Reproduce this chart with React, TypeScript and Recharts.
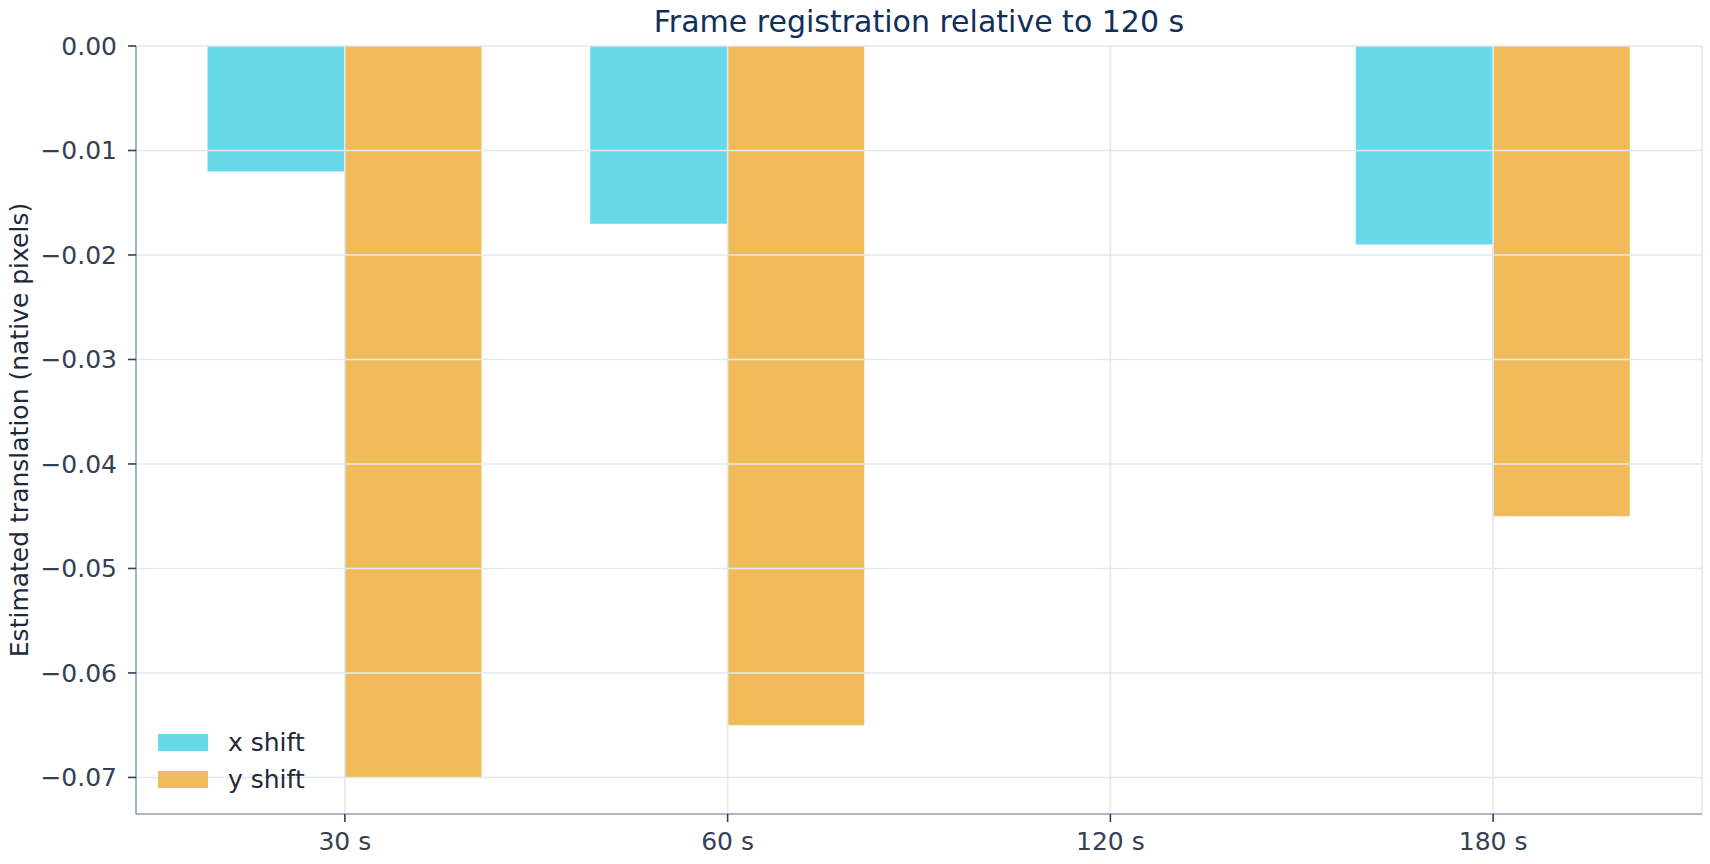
import React from 'react';
import {
  BarChart, Bar, XAxis, YAxis, CartesianGrid, Legend, Label,
} from 'recharts';

const categories = ['30 s', '60 s', '120 s', '180 s'];
const xShift = [-0.012, -0.017, 0, -0.019];
const yShift = [-0.07, -0.065, 0, -0.045];
const yTicks = [0, -0.01, -0.02, -0.03, -0.04, -0.05, -0.06, -0.07];

const seriesNames = ['x shift', 'y shift'];
const seriesColors = ['#68d9e8', '#f1bb5a'];

const data = categories.map((c, i) => ({ cat: c, x: xShift[i], y: yShift[i] }));

const FONT = '"DejaVu Sans", sans-serif';
const TICK = '#334155';
const SPINE = '#94a3b8';
const GRID = '#e2e8f0';
const FS = 25;

const fmt = (v: number) => (v < 0 ? '\u2212' : '') + Math.abs(v).toFixed(2);

function LegendBox() {
  return (
    <div style={{ fontFamily: FONT, fontSize: FS, color: '#1e293b' }}>
      {seriesNames.map((n, i) => (
        <div key={n} style={{ display: 'flex', alignItems: 'center', height: 37 }}>
          <span style={{ width: 50, height: 17, background: seriesColors[i], display: 'inline-block' }} />
          <span style={{ marginLeft: 20, lineHeight: '28px' }}>{n}</span>
        </div>
      ))}
    </div>
  );
}

export default function App() {
  return (
    <div style={{ position: 'absolute', left: 0, top: 0, width: 1710, height: 864, background: '#fff', fontFamily: FONT }}>
      <div
        style={{
          position: 'absolute', left: 136, width: 1566, top: 4, textAlign: 'center',
          fontSize: 30, lineHeight: '36px', color: '#10305a',
        }}
      >
        Frame registration relative to 120 s
      </div>
      <BarChart
        width={1710}
        height={864}
        data={data}
        margin={{ top: 46, right: 8, bottom: 0, left: 0 }}
        barGap={0}
        barSize={137}
        accessibilityLayer={false}
      >
        <XAxis
          dataKey="cat"
          height={50}
          padding={{ left: 17.5, right: 17.5 }}
          axisLine={{ stroke: SPINE, strokeWidth: 1.6 }}
          tickLine={{ stroke: TICK, strokeWidth: 1.6 }}
          tickSize={8}
          tickMargin={10}
          tick={{ fill: TICK, fontSize: FS, fontFamily: FONT }}
        />
        <XAxis
          xAxisId="top"
          dataKey="cat"
          orientation="top"
          height={0}
          padding={{ left: 17.5, right: 17.5 }}
          axisLine={{ stroke: SPINE, strokeWidth: 1.6 }}
          tick={false}
          tickLine={false}
        />
        <YAxis
          width={136}
          domain={[-0.0735, 0]}
          ticks={yTicks}
          interval={0}
          allowDataOverflow
          tickFormatter={fmt}
          axisLine={{ stroke: SPINE, strokeWidth: 1.6 }}
          tickLine={{ stroke: TICK, strokeWidth: 1.6 }}
          tickSize={8}
          tickMargin={11}
          tick={{ fill: TICK, fontSize: FS, fontFamily: FONT }}
        >
          <Label
            value="Estimated translation (native pixels)"
            angle={-90}
            position="insideLeft"
            offset={0}
            dx={19}
            style={{ textAnchor: 'middle', fill: '#1e293b', fontSize: FS, fontFamily: FONT }}
          />
        </YAxis>
        <YAxis
          yAxisId="right"
          orientation="right"
          width={0}
          domain={[-0.0735, 0]}
          axisLine={{ stroke: SPINE, strokeWidth: 1.6 }}
          tick={false}
          tickLine={false}
        />
        <Bar dataKey="x" name={seriesNames[0]} fill={seriesColors[0]} isAnimationActive={false} />
        <Bar dataKey="y" name={seriesNames[1]} fill={seriesColors[1]} isAnimationActive={false} />
        <CartesianGrid stroke={GRID} strokeWidth={1.6} zIndex={350} />
        <Legend
          layout="vertical"
          align="center"
          verticalAlign="middle"
          content={() => <LegendBox />}
          wrapperStyle={{ left: 158, top: 724, width: 200, height: 80 }}
        />
      </BarChart>
    </div>
  );
}
